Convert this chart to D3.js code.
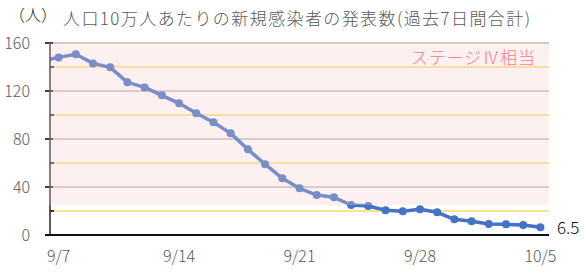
<!DOCTYPE html>
<html>
<head>
<meta charset="utf-8">
<script src="https://cdn.jsdelivr.net/npm/d3@7"></script>
<style>
  body { margin: 0; background: #fff; }
  svg { display: block; }
</style>
</head>
<body>
<script>
const W = 586, H = 276

// data
const dates = ['9/7', '9/8', '9/9', '9/10', '9/11', '9/12', '9/13', '9/14', '9/15', '9/16',
    '9/17', '9/18', '9/19', '9/20', '9/21', '9/22', '9/23', '9/24', '9/25', '9/26',
    '9/27', '9/28', '9/29', '9/30', '10/1', '10/2', '10/3', '10/4', '10/5']
const values = [148, 150.6, 143, 139.7, 127.2, 123, 116.4, 109.7, 101.4, 93.9,
    84.7, 71.4, 59, 47.2, 38.9, 33.3, 31.4, 25, 24.2, 20.6,
    19.7, 21.4, 18.9, 13.1, 11.4, 9.2, 8.9, 8.3, 6.5]
const prevValue = 145 // 9/6, only the stub of its segment shows at the axis
const tickLabels = ['9/7', '9/14', '9/21', '9/28', '10/5']
const majorTicks = [0, 40, 80, 120, 160]
const minorTicks = [20, 60, 100, 140]
const stageIVFrom = 25
const title = '人口10万人あたりの新規感染者の発表数(過去7日間合計)'
const unitLabel = '（人）'
const stageLabel = 'ステージⅣ相当'
const lastLabel = '6.5'

const margin = {left: 50, right: 37, top: 43, bottom: 41}
const font = '"Noto Sans CJK JP", "Noto Sans", sans-serif'

const svg = d3.select('body').append('svg')
    .attr('width', W)
    .attr('height', H)
    .attr('viewBox', [0, 0, W, H])

const x = d3.scaleBand()
    .domain(dates)
    .range([margin.left, W - margin.right])
    .paddingInner(0)
    .paddingOuter(0)
const cx = d => x(d) + x.bandwidth() / 2

const y = d3.scaleLinear()
    .domain([0, 160])
    .range([H - margin.bottom, margin.top])

const x0 = margin.left, x1 = W - margin.right

svg.append('defs').append('clipPath')
    .attr('id', 'plot')
    .append('rect')
    .attr('x', x0)
    .attr('y', 0)
    .attr('width', x1 - x0)
    .attr('height', H)

// gridlines
svg.append('g')
    .selectAll('line')
    .data(majorTicks.filter(d => d > 0))
    .join('line')
        .attr('x1', x0).attr('x2', x1)
        .attr('y1', d => y(d)).attr('y2', d => y(d))
        .attr('stroke', '#c2b4b4')
        .attr('stroke-width', 1.3)
svg.append('g')
    .selectAll('line')
    .data(minorTicks)
    .join('line')
        .attr('x1', x0).attr('x2', x1)
        .attr('y1', d => y(d)).attr('y2', d => y(d))
        .attr('stroke', '#ffd966')
        .attr('stroke-width', 1.3)

// series
const pts = [{d: null, v: prevValue, px: cx(dates[0]) - x.step()}]
    .concat(dates.map((d, i) => ({d, v: values[i], px: cx(d)})))

svg.append('path')
    .datum(pts)
    .attr('clip-path', 'url(#plot)')
    .attr('fill', 'none')
    .attr('stroke', '#4472c4')
    .attr('stroke-width', 3.5)
    .attr('stroke-linejoin', 'round')
    .attr('d', d3.line().x(p => p.px).y(p => y(p.v)))

svg.append('g')
    .selectAll('circle')
    .data(pts.slice(1))
    .join('circle')
        .attr('cx', p => p.px)
        .attr('cy', p => y(p.v))
        .attr('r', 4)
        .attr('fill', '#4472c4')

// y axis line and ticks (under the stage band)
const yAxis = svg.append('g').attr('stroke', '#262626')
yAxis.append('line')
    .attr('x1', x0).attr('x2', x0)
    .attr('y1', y(160)).attr('y2', y(0))
    .attr('stroke-width', 1.5)
yAxis.selectAll('.maj')
    .data(majorTicks)
    .join('line')
        .attr('x1', x0 - 5).attr('x2', x0 + 3)
        .attr('y1', d => y(d)).attr('y2', d => y(d))
        .attr('stroke-width', 1.8)
yAxis.selectAll('.min')
    .data(minorTicks)
    .join('line')
        .attr('x1', x0).attr('x2', x0 + 4)
        .attr('y1', d => y(d)).attr('y2', d => y(d))
        .attr('stroke-width', 1.8)

// stage IV band, translucent over the line
svg.append('rect')
    .attr('x', x0 - 1)
    .attr('y', y(160))
    .attr('width', x1 - x0 + 1)
    .attr('height', y(stageIVFrom) - y(160))
    .attr('fill', 'rgb(245,205,205)')
    .attr('fill-opacity', 0.3)

// x axis line
svg.append('line')
    .attr('x1', x0 - 5).attr('x2', x1)
    .attr('y1', y(0)).attr('y2', y(0))
    .attr('stroke', '#111')
    .attr('stroke-width', 2)

// tick labels
svg.append('g')
        .attr('font-family', font)
        .attr('font-size', 16)
        .attr('font-weight', 300)
        .attr('fill', '#595959')
    .selectAll('text')
    .data(majorTicks)
    .join('text')
        .attr('x', 30)
        .attr('y', d => y(d) + 6)
        .attr('text-anchor', 'end')
        .text(d => d)

svg.append('g')
        .attr('font-family', font)
        .attr('font-size', 16)
        .attr('font-weight', 300)
        .attr('fill', '#595959')
    .selectAll('text')
    .data(tickLabels)
    .join('text')
        .attr('x', d => cx(d))
        .attr('y', 262)
        .attr('text-anchor', 'middle')
        .text(d => d)

// texts
svg.append('text')
    .attr('x', 63)
    .attr('y', 25)
    .attr('font-family', font)
    .attr('font-size', 17)
    .attr('font-weight', 300)
    .attr('fill', '#595959')
    .attr('textLength', 467)
    .attr('lengthAdjust', 'spacing')
    .text(title)

svg.append('text')
    .attr('x', 9)
    .attr('y', 21)
    .attr('font-family', font)
    .attr('font-size', 16)
    .attr('font-weight', 300)
    .attr('fill', '#262626')
    .text(unitLabel)

svg.append('text')
    .attr('x', 411)
    .attr('y', 64)
    .attr('font-family', font)
    .attr('font-size', 17)
    .attr('font-weight', 300)
    .attr('fill', '#ff7c80')
    .attr('textLength', 124)
    .attr('lengthAdjust', 'spacing')
    .text(stageLabel)

const last = pts[pts.length - 1]
svg.append('text')
    .attr('x', 557)
    .attr('y', y(last.v) + 1)
    .attr('dy', '0.35em')
    .attr('font-family', font)
    .attr('font-size', 17)
    .attr('font-weight', 300)
    .attr('fill', '#111')
    .text(lastLabel)
</script>
</body>
</html>
